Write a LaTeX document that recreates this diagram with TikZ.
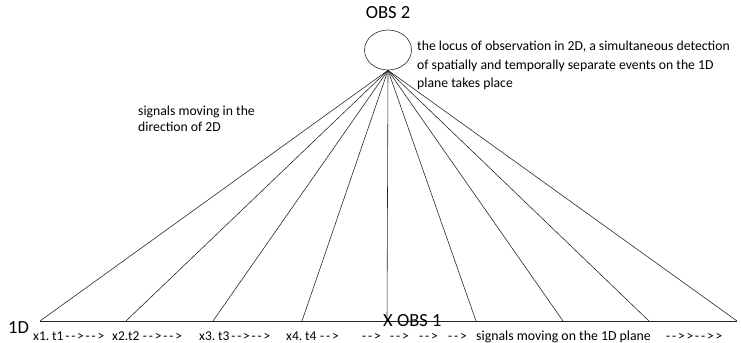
\documentclass[tikz,border=0pt]{standalone}
\usepackage{fontspec}
\setmainfont{Carlito}
\newfontfamily\axisfont[WordSpace=0.6]{Carlito}
\usetikzlibrary{shapes.geometric}

\begin{document}
\begin{tikzpicture}[x=0.03cm,y=-0.03cm]
\path[use as bounding box] (0,0) rectangle (741,343);
\tikzset{
  ray/.style={black!85,line width=0.5pt},
  bigtxt/.style={inner sep=0pt,font=\fontsize{15.8}{18}\selectfont},
  smalltxt/.style={inner sep=0pt,align=left,font=\fontsize{11.7}{15.8}\selectfont},
  axistxt/.style={inner sep=0pt,anchor=base west,font=\axisfont\fontsize{11.5}{13}\selectfont}
}
% observer in 2D
\node[draw,ellipse,ray,minimum width=47*0.03cm,minimum height=40*0.03cm,inner sep=0pt] (obs2) at (388,50) {};
\node[bigtxt,anchor=base] (obs2lbl) at (388,19) {OBS 2};
\node[smalltxt,anchor=north west] (locus) at (417,41) {the locus of observation in 2D, a simultaneous detection\\of spatially and temporally separate events on the 1D\\plane takes place};
\node[smalltxt,anchor=north west,font=\fontsize{11.7}{13.6}\selectfont] (sig2d) at (138,106) {signals moving in the\\direction of 2D};
% points on the 1D plane
\coordinate (p1) at (40,321);
\coordinate (p2) at (126,321);
\coordinate (p3) at (213,321);
\coordinate (p4) at (302,321);
\coordinate (p5) at (387,321);
\coordinate (p6) at (476,321);
\coordinate (p7) at (563,321);
\coordinate (p8) at (649,321);
\coordinate (p9) at (737,321);
\draw[ray] (p1) -- (p9);
\draw[ray] (obs2.south) -- (p1);
\draw[ray] (obs2.south) -- (p2);
\draw[ray] (obs2.south) -- (p3);
\draw[ray] (obs2.south) -- (p4);
\draw[ray] (obs2.south) -- (p5);
\draw[ray] (obs2.south) -- (p6);
\draw[ray] (obs2.south) -- (p7);
\draw[ray] (obs2.south) -- (p8);
\draw[ray] (obs2.south) -- (p9);
\node[bigtxt,anchor=base west] (oned) at (8,333) {1D};
\node[bigtxt,anchor=base west,text depth=0pt] (obs1) at (383,326) {X OBS 1};
% labels along the 1D plane
\node[axistxt] (e1) at (33,340) {x1. t1 - - > - - >};
\node[axistxt] (e2) at (112,340) {x2.t2 \ - - > - - >};
\node[axistxt] (e3) at (199,340) {x3. t3 - - > - - >};
\node[axistxt] (e4) at (286,340) {x4. t4 \ - - >};
\node[axistxt] (d1) at (362,340) {- - >};
\node[axistxt] (d2) at (390,340) {- - >};
\node[axistxt] (d3) at (419,340) {- - >};
\node[axistxt] (d4) at (448,340) {- - >};
\node[axistxt,font=\fontsize{11.8}{13}\selectfont] (sig1d) at (476,340) {signals moving on the 1D plane};
\node[axistxt] (tail) at (666,340) {- - > > - - > >};
\end{tikzpicture}
\end{document}
